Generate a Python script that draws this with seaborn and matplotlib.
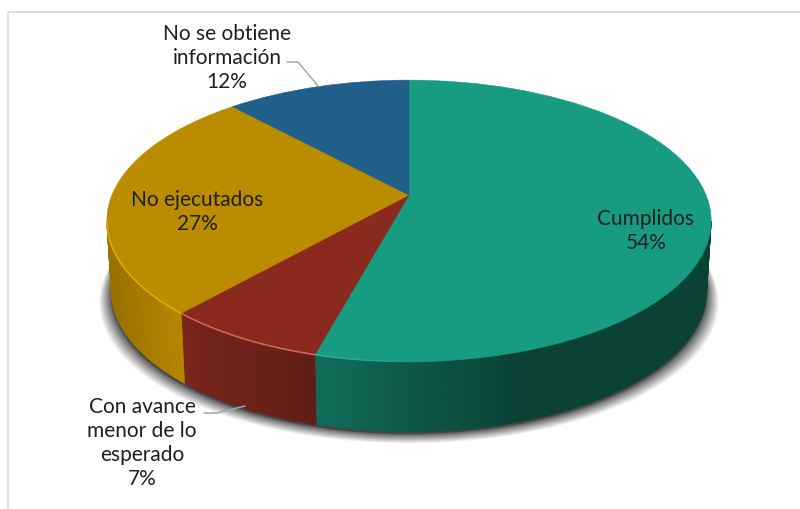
import numpy as np
import seaborn as sns
import matplotlib.pyplot as plt
from matplotlib.patches import Rectangle
from matplotlib.transforms import Transform

categories = ['Cumplidos', 'Con avance\nmenor de lo\nesperado', 'No ejecutados', 'No se obtiene\ninformación']
values = [54.2, 7.3, 26.7, 11.8]
hex_colors = ['#179c81', '#8a2a1f', '#bb8b00', '#1f5f8a']
rim_colors = ['#2cb698', '#d8695f', '#e8ae00', '#1f5f8a']

# label centres in pixels
label_x = [646, 142, 197, 227]
label_y = [231, 443, 212, 58]

# pie geometry, measured in pixels on the picture
cx, cy = 409, 196
rx, ry, persp = 297, 136, 0.184
depth = 70
bottom_scale = 0.985

sns.set_theme(style='white')
plt.rcParams['font.family'] = ['Lato', 'DejaVu Sans']
palette = sns.color_palette(hex_colors)


class TiltTransform(Transform):
    input_dims = 2
    output_dims = 2

    def transform_non_affine(self, values):
        values = np.asarray(values)
        w = 1 + persp * values[:, 1]
        return np.column_stack([cx + rx * values[:, 0] / w, cy - ry * values[:, 1] / w])


def rim(tau):
    # tau = degrees clockwise from the top of the pie
    t = np.radians(tau)
    w = 1 + persp * np.cos(t)
    return cx + rx * np.sin(t) / w, cy - ry * np.cos(t) / w


fig = plt.figure(figsize=(8, 5.1), dpi=100)
ax = fig.add_axes([0, 0, 1, 1])

wedges, _ = ax.pie(values, colors=palette, startangle=90, counterclock=False,
                   wedgeprops={'linewidth': 0.4, 'zorder': 4})
tilt = TiltTransform()
for wedge, color in zip(wedges, palette):
    wedge.set_transform(tilt + ax.transData)
    wedge.set_edgecolor(color)

ax.set_aspect('auto')
ax.set_xlim(0, 800)
ax.set_ylim(510, 0)
ax.axis('off')

ax.add_patch(Rectangle((8, 13), 830, 530, fill=False, edgecolor='#d9d9d9', linewidth=1.2, zorder=1))

# soft shadow under the disc, layers bunch up near the edge
all_tau = np.linspace(0, 360, 361)
sx, sy = rim(all_tau)
for grow in 12 * np.linspace(1, 0, 22) ** 1.9:
    factor = 1 + grow / 300
    ax.fill(cx + (sx - cx) * factor * bottom_scale, sy + depth + 2 + grow * 0.8,
            color='black', alpha=0.055, linewidth=0, zorder=2)

# side wall, brightness follows x
wall_x = [[316, 520, 720], [180, 316], [100, 180], [0, 1]]
wall_shade = [[0.70, 0.42, 0.42], [0.88, 0.70], [0.80, 0.97], [1, 1]]
edges = np.concatenate([[0], np.cumsum(values)]) / sum(values) * 360
for i, color in enumerate(palette):
    lo = max(edges[i], 100.6)
    hi = min(edges[i + 1], 259.4)
    if hi <= lo:
        continue
    taus = np.arange(lo, hi + 1, 1.0)
    taus = np.append(taus[taus < hi], hi)
    xs, ys = rim(taus)
    for j in range(len(taus) - 1):
        mid = (xs[j] + xs[j + 1]) / 2
        shade = np.interp(mid, wall_x[i], wall_shade[i])
        c = tuple(np.array(color) * shade)
        qx = [xs[j], xs[j + 1], cx + (xs[j + 1] - cx) * bottom_scale, cx + (xs[j] - cx) * bottom_scale]
        qy = [ys[j], ys[j + 1], ys[j + 1] + depth, ys[j] + depth]
        ax.fill(qx, qy, color=c, linewidth=0.5, zorder=3)

    # light line along the front edge of the top face, fades out to the right
    hl_lo = max(lo, 172)
    if hi > hl_lo:
        ht = np.linspace(hl_lo, hi, 41)
        hx, hy = rim(ht)
        for j in range(len(ht) - 1):
            fade = np.clip((ht[j] - 172) / 22, 0, 1)
            ax.plot(hx[j:j + 2], hy[j:j + 2], color=rim_colors[i], alpha=fade,
                    linewidth=1.1, zorder=5, solid_capstyle='butt')

# leader lines
ax.plot([287, 298, 318], [63, 63, 87], color='#a6a6a6', linewidth=1.1, zorder=6)
ax.plot([204, 217, 245], [414, 414, 407], color='#a6a6a6', linewidth=1.1, zorder=6)

for name, val, x, y in zip(categories, values, label_x, label_y):
    ax.text(x, y, f'{name}\n{round(val)}%', ha='center', va='center', fontsize=15,
            color='#1f1f1f', linespacing=1.27, zorder=7)

fig.savefig('out.png', dpi=100)
